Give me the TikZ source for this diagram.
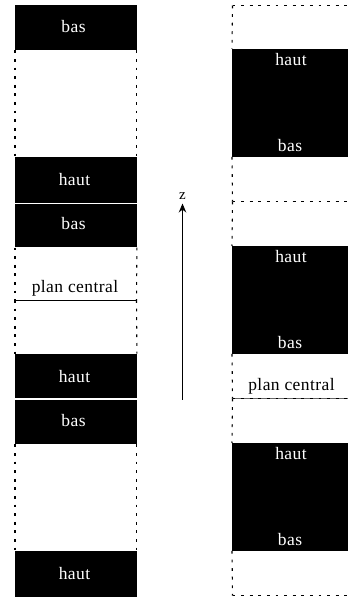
\documentclass[tikz,border=0pt]{standalone}
\usepackage{fontspec}
\setmainfont{Liberation Serif}
\newfontfamily\lblfont[LetterSpace=2.5]{Liberation Serif}
\usetikzlibrary{arrows.meta}
\tikzset{
  x=1pt,y=-1pt,
  block/.style={fill=black,draw=none,anchor=north west,inner sep=0pt,minimum width=#1},
  lbl/.style={text=white,font=\lblfont\fontsize{17.5}{20}\selectfont,inner sep=0pt,anchor=base},
  dark/.style={text=black,font=\lblfont\fontsize{17.5}{20}\selectfont,inner sep=0pt,anchor=base},
  dots/.style={draw=black,line width=1.1pt,dash pattern=on 2.8pt off 5.8pt},
  sep/.style={draw=black,line width=0.9pt},
}
\begin{document}
\begin{tikzpicture}
\useasboundingbox (0,0) rectangle (348,597);
% left column
\node[block=121.5pt,minimum height=45pt] (a1) at (15,5) {};
\node[block=121.5pt,minimum height=45.5pt] (a2) at (15,157) {};
\node[block=121.5pt,minimum height=43.5pt] (a3) at (15,203.7) {};
\node[block=121.5pt,minimum height=44.5pt] (a4) at (15,353.5) {};
\node[block=121.5pt,minimum height=44.3pt] (a5) at (15,399.7) {};
\node[block=121.5pt,minimum height=45.5pt] (a6) at (15,551) {};
\node[lbl] at (73.5,32) {bas};
\node[lbl] at (74.5,185) {haut};
\node[lbl] at (73.5,229) {bas};
\node[lbl] at (74.5,382) {haut};
\node[lbl] at (73.5,426) {bas};
\node[lbl] at (74.5,579) {haut};
\node[dark] at (75,292.5) {plan central};
\coordinate (mL) at (15,300);
\coordinate (mR) at (136.5,300);
\draw[sep] (mL) -- (mR);
\draw[dots] (a1.south west) -- (a2.north west);
\draw[dots] (a1.south east) -- (a2.north east);
\draw[dots] (a3.south west) -- (mL);
\draw[dots] (a3.south east) -- (mR);
\draw[dots] (mL) -- (a4.north west);
\draw[dots] (mR) -- (a4.north east);
\draw[dots] (a5.south west) -- (a6.north west);
\draw[dots] (a5.south east) -- (a6.north east);
% right column
\node[block=116pt,minimum height=107.5pt] (b1) at (232,49) {};
\node[block=116pt,minimum height=107.5pt] (b2) at (232,246) {};
\node[block=116pt,minimum height=107.5pt] (b3) at (232,443) {};
\node[lbl] at (291,65) {haut};
\node[lbl] at (290,151) {bas};
\node[lbl] at (291,262) {haut};
\node[lbl] at (290,348) {bas};
\node[lbl] at (291,459) {haut};
\node[lbl] at (290,545) {bas};
\node[dark] at (291.5,390.5) {plan central};
\coordinate (t0) at (232.5,5.5);
\coordinate (t1) at (348,5.5);
\coordinate (c0) at (232.5,201.5);
\coordinate (c1) at (348,201.5);
\coordinate (d0) at (232.5,398.5);
\coordinate (d1) at (348,398.5);
\coordinate (e0) at (232.5,595.5);
\coordinate (e1) at (348,595.5);
\draw[dots] (t0) -- (t1);
\draw[dots] (c0) -- (c1);
\draw[sep,line width=0.6pt,draw=black!60] (d0) -- (d1);
\draw[dots] (d0) -- (d1);
\draw[dots] (e0) -- (e1);
\draw[dots] (t0) -- (b1.north west);
\draw[dots] (b1.south west) -- (c0);
\draw[dots] (c0) -- (b2.north west);
\draw[dots] (b2.south west) -- (d0);
\draw[dots] (d0) -- (b3.north west);
\draw[dots] (b3.south west) -- (e0);
% z axis
\node[text=black,font=\fontsize{15}{17}\selectfont,inner sep=0pt,anchor=base] (z) at (182.5,199) {z};
\coordinate (z0) at (182.5,399.5);
\coordinate (z1) at (182.5,203.5);
\draw[line width=0.9pt,-{Stealth[length=9pt,width=7.5pt]}] (z0) -- (z1);
\end{tikzpicture}
\end{document}
